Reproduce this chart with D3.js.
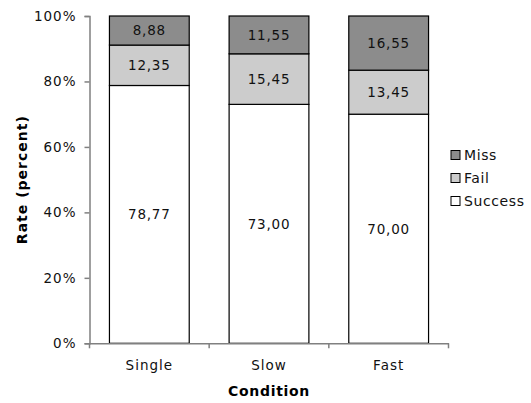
<!DOCTYPE html>
<html>
<head>
<meta charset="utf-8">
<script src="https://cdn.jsdelivr.net/npm/d3@7"></script>
<style>
  html, body { margin: 0; padding: 0; background: #fff; }
  svg { display: block; font-family: "DejaVu Sans", Verdana, sans-serif; }
</style>
</head>
<body>
<svg id="chart" width="531" height="403"></svg>
<script>
const categories = ["Single", "Slow", "Fast"];
const seriesNames = ["Success", "Fail", "Miss"];
const success = [78.77, 73.00, 70.00];
const fail = [12.35, 15.45, 13.45];
const miss = [8.88, 11.55, 16.55];
const yTicks = [0, 20, 40, 60, 80, 100];
const colors = { Success: "#ffffff", Fail: "#cccccc", Miss: "#8c8c8c" };

const svg = d3.select("#chart");
const plotLeft = 89.5, plotRight = 448.5, plotTop = 16, plotBottom = 343.3;

const x = d3.scaleBand().domain(categories).range([plotLeft, plotRight]).padding(0);
const y = d3.scaleLinear().domain([0, 100]).range([plotBottom, plotTop]);

const rows = categories.map((c, i) => ({ cat: c, Success: success[i], Fail: fail[i], Miss: miss[i] }));
const stack = d3.stack().keys(seriesNames)(rows);

const fmt = v => d3.format(".2f")(v).replace(".", ",");
const bw = x.bandwidth();
const barW = bw * 2 / 3;

// Bars
const layers = svg.append("g").selectAll("g").data(stack).join("g")
  .attr("fill", d => colors[d.key]);
layers.selectAll("rect").data(d => d.map(p => Object.assign({ key: d.key }, p))).join("rect")
  .attr("x", d => x(d.data.cat) + (bw - barW) / 2)
  .attr("width", barW)
  .attr("y", d => y(d[1]))
  .attr("height", d => y(d[0]) - y(d[1]))
  .attr("stroke", "#000")
  .attr("stroke-width", 1.2);

// Labels
stack.forEach(layer => {
  layer.forEach(p => {
    svg.append("text")
      .attr("x", x(p.data.cat) + bw / 2)
      .attr("y", (y(p[0]) + y(p[1])) / 2)
      .attr("dy", "0.36em")
      .attr("text-anchor", "middle")
      .attr("font-size", "13.5px")
      .attr("letter-spacing", "0.8px")
      .attr("fill", "#111")
      .text(fmt(p[1] - p[0]));
  });
});

// Y axis
const yAxis = d3.axisLeft(y).tickValues(yTicks).tickSize(5).tickPadding(8)
  .tickFormat(d => d + "%");
const gy = svg.append("g").attr("transform", `translate(${plotLeft},0)`).call(yAxis);
gy.select(".domain").attr("stroke", "#808080").attr("stroke-width", 1.5);
gy.selectAll(".tick line").attr("stroke", "#808080").attr("stroke-width", 1.5);
gy.selectAll(".tick text").attr("font-size", "13.5px").attr("letter-spacing", "1px")
  .attr("font-family", "DejaVu Sans, Verdana, sans-serif").attr("fill", "#111");

// X axis
const xAxis = d3.axisBottom(x).tickSize(0).tickPadding(17);
const gx = svg.append("g").attr("transform", `translate(0,${plotBottom})`).call(xAxis);
gx.select(".domain").attr("stroke", "#808080").attr("stroke-width", 1.5);
gx.selectAll(".tick text").attr("font-size", "13.5px").attr("letter-spacing", "1px")
  .attr("font-family", "DejaVu Sans, Verdana, sans-serif").attr("fill", "#111");
const bounds = categories.map(c => x(c)).concat([x(categories[categories.length - 1]) + bw]);
gx.selectAll("line.bound").data(bounds).join("line").attr("class", "bound")
  .attr("x1", d => d).attr("x2", d => d).attr("y1", 0).attr("y2", 5)
  .attr("stroke", "#808080").attr("stroke-width", 1.5);

// Axis titles
svg.append("text")
  .attr("transform", `translate(27,${(plotTop + plotBottom) / 2}) rotate(-90)`)
  .attr("text-anchor", "middle")
  .attr("font-size", "14px").attr("font-weight", "bold").attr("letter-spacing", "1px")
  .text("Rate (percent)");
svg.append("text")
  .attr("x", (plotLeft + plotRight) / 2).attr("y", 396)
  .attr("text-anchor", "middle")
  .attr("font-size", "14px").attr("font-weight", "bold").attr("letter-spacing", "0.7px")
  .text("Condition");

// Legend
const legendOrder = ["Miss", "Fail", "Success"];
const lg = svg.append("g");
legendOrder.forEach((k, i) => {
  const cy = 155 + i * 23;
  lg.append("rect").attr("x", 451).attr("y", cy - 4.5).attr("width", 9).attr("height", 9)
    .attr("fill", colors[k]).attr("stroke", "#000").attr("stroke-width", 1);
  lg.append("text").attr("x", 464).attr("y", cy).attr("dy", "0.36em")
    .attr("font-size", "14px").attr("letter-spacing", "0.6px").attr("fill", "#111").text(k);
});
</script>
</body>
</html>
